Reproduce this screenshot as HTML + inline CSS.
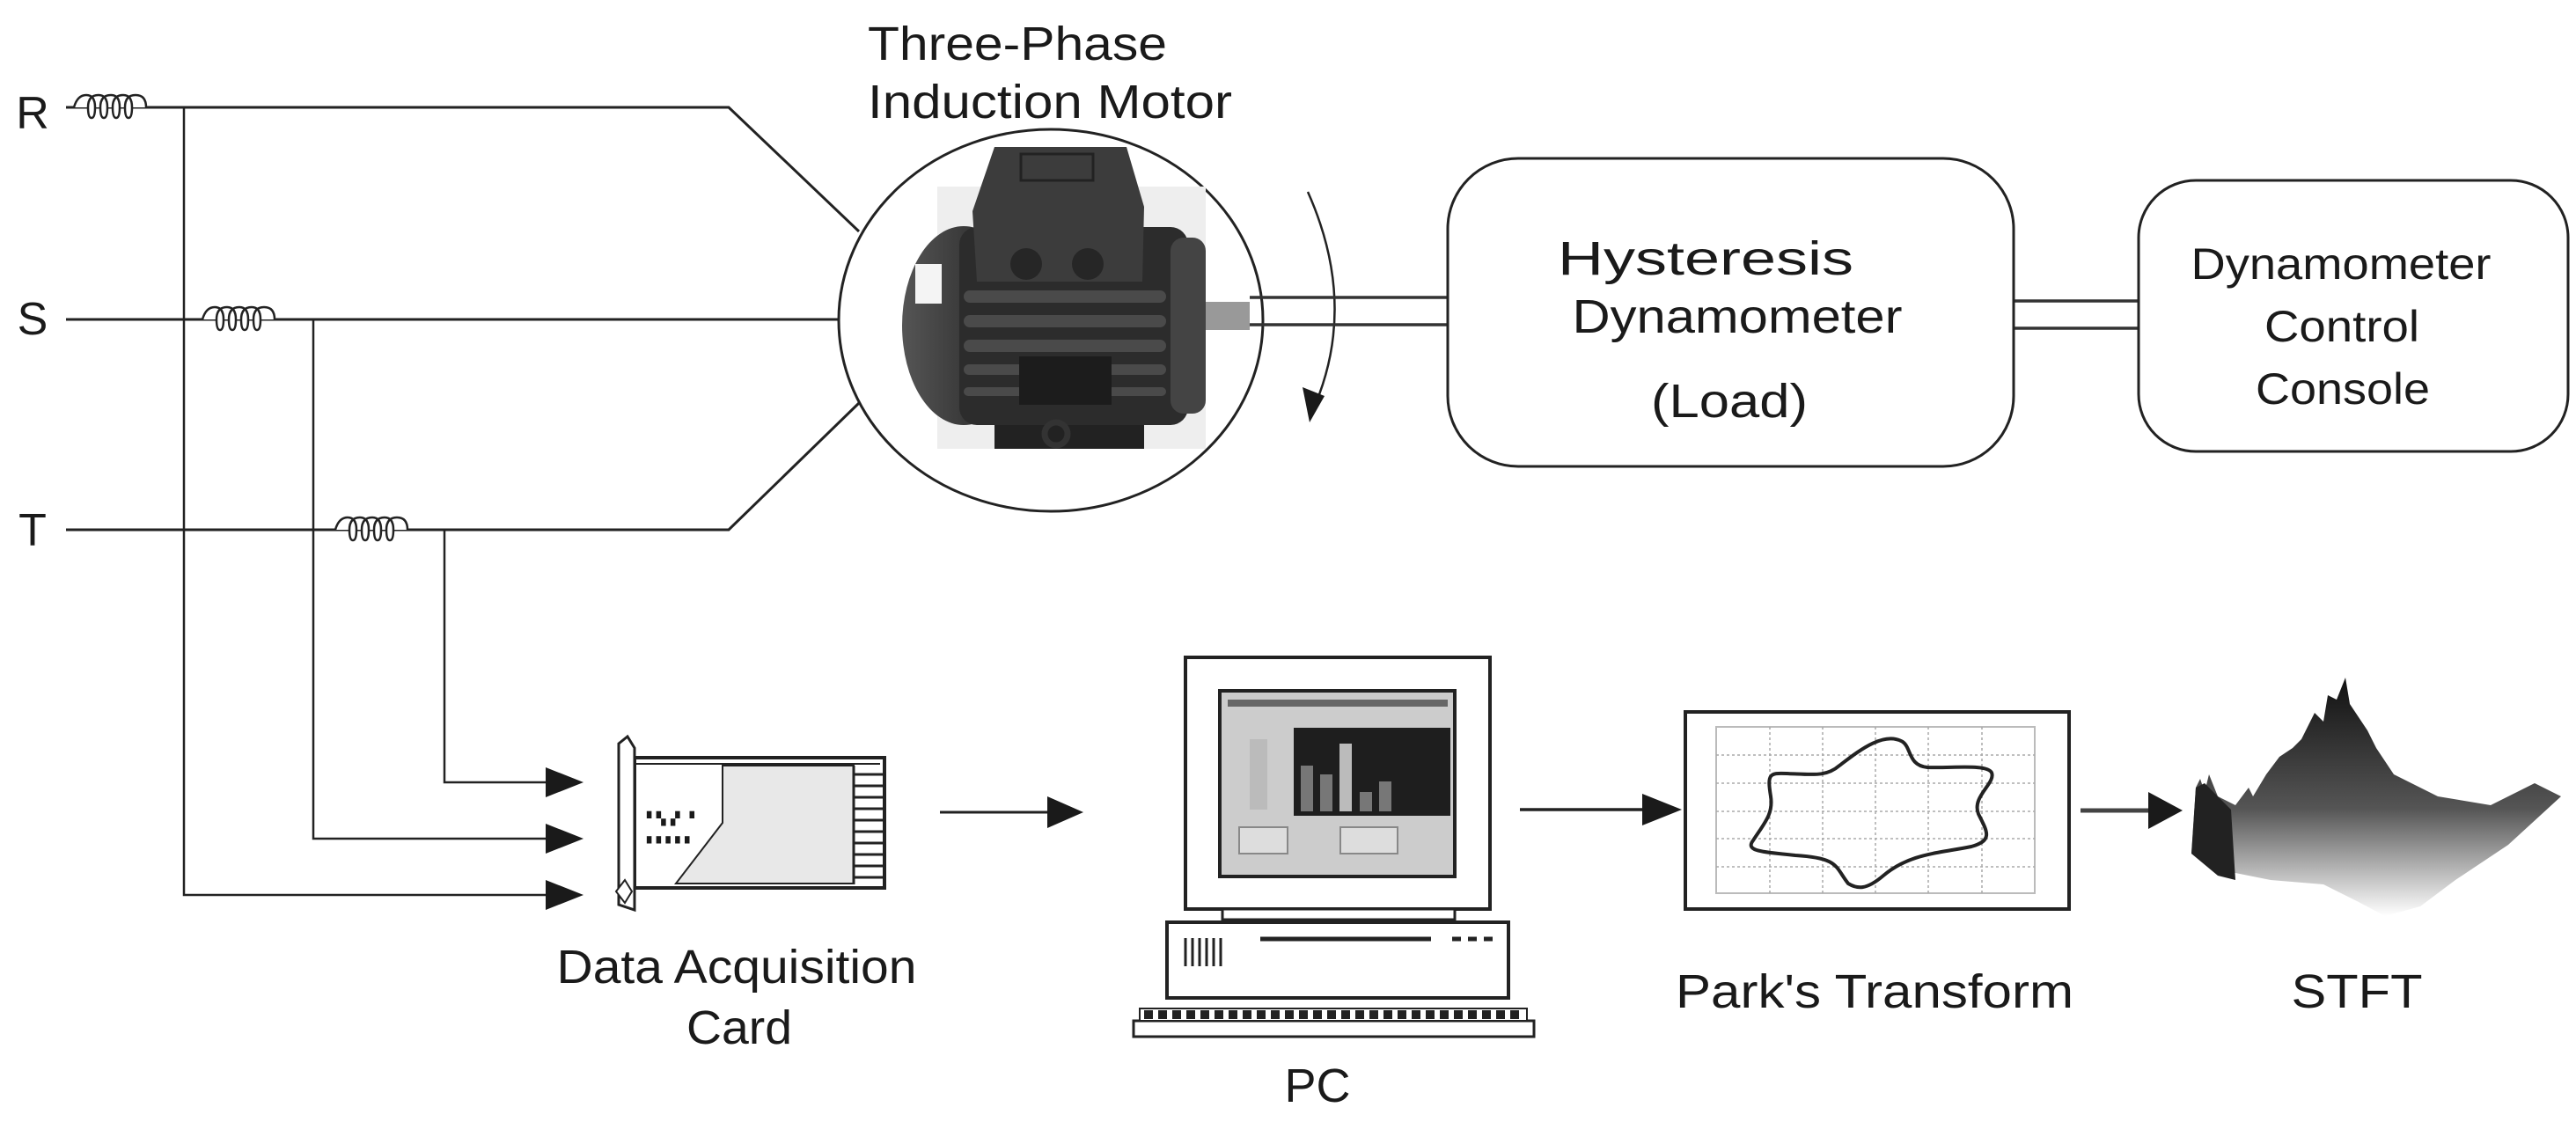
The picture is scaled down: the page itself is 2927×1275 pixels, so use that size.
<!DOCTYPE html>
<html><head><meta charset="utf-8">
<style>html,body{margin:0;padding:0;background:#fff}svg{display:block}
text{font-family:"Liberation Sans",sans-serif;fill:#1a1a1a}</style></head>
<body>
<svg width="2927" height="1275" viewBox="0 0 2927 1275" xmlns="http://www.w3.org/2000/svg">
<defs>
<linearGradient id="cap" x1="0" x2="1"><stop offset="0" stop-color="#555"/><stop offset="0.5" stop-color="#3a3a3a"/><stop offset="1" stop-color="#222"/></linearGradient>
<linearGradient id="stf" x1="0" y1="0" x2="0" y2="1"><stop offset="0" stop-color="#111"/><stop offset="0.55" stop-color="#555"/><stop offset="1" stop-color="#fff"/></linearGradient>
</defs>
<g stroke="#222" fill="none" stroke-width="3">
<polyline points="75,122 828,122 976,263"/>
<line x1="75" y1="363" x2="955" y2="363"/>
<polyline points="75,602 828,602 976,458"/>
<path d="M84,122 q4,-14 14,-14 q10,0 10,14 q0,12 -4,12 q-4,0 -4,-12 q0,-14 12,-14 q10,0 10,14 q0,12 -4,12 q-4,0 -4,-12 q0,-14 12,-14 q10,0 10,14 q0,12 -4,12 q-4,0 -4,-12 q0,-14 12,-14 q10,0 10,14 q0,12 -4,12 q-4,0 -4,-12 q0,-14 12,-14 q12,0 12,14" stroke-width="2.5" fill="#fff"/>
<path d="M230,363 q4,-14 14,-14 q10,0 10,14 q0,12 -4,12 q-4,0 -4,-12 q0,-14 12,-14 q10,0 10,14 q0,12 -4,12 q-4,0 -4,-12 q0,-14 12,-14 q10,0 10,14 q0,12 -4,12 q-4,0 -4,-12 q0,-14 12,-14 q10,0 10,14 q0,12 -4,12 q-4,0 -4,-12 q0,-14 12,-14 q12,0 12,14" stroke-width="2.5" fill="#fff"/>
<path d="M381,602 q4,-14 14,-14 q10,0 10,14 q0,12 -4,12 q-4,0 -4,-12 q0,-14 12,-14 q10,0 10,14 q0,12 -4,12 q-4,0 -4,-12 q0,-14 12,-14 q10,0 10,14 q0,12 -4,12 q-4,0 -4,-12 q0,-14 12,-14 q10,0 10,14 q0,12 -4,12 q-4,0 -4,-12 q0,-14 12,-14 q12,0 12,14" stroke-width="2.5" fill="#fff"/>
<polyline points="209,122 209,1017 630,1017" stroke-width="2.5"/>
<polyline points="356,363 356,953 630,953" stroke-width="2.5"/>
<polyline points="505,602 505,889 630,889" stroke-width="2.5"/>
</g>
<g fill="#1a1a1a">
<polygon points="620,872 663,889 620,906"/>
<polygon points="620,936 663,953 620,970"/>
<polygon points="620,1000 663,1017 620,1034"/>
</g>
<text x="37" y="146" font-size="52" text-anchor="middle">R</text>
<text x="37" y="380" font-size="52" text-anchor="middle">S</text>
<text x="37" y="620" font-size="52" text-anchor="middle">T</text>
<text x="1156" y="68" font-size="54" text-anchor="middle" textLength="340" lengthAdjust="spacingAndGlyphs">Three-Phase</text>
<text x="1193" y="134" font-size="54" text-anchor="middle" textLength="414" lengthAdjust="spacingAndGlyphs">Induction Motor</text>
<ellipse cx="1194" cy="364" rx="241" ry="217" fill="#fff" stroke="#222" stroke-width="3"/>
<rect x="1065" y="212" width="305" height="298" fill="#eee"/>
<rect x="1130" y="475" width="170" height="35" fill="#222"/>
<rect x="1370" y="343" width="50" height="32" fill="#999"/>
<ellipse cx="1095" cy="370" rx="70" ry="113" fill="url(#cap)"/>
<rect x="1090" y="258" width="260" height="225" rx="20" fill="#2c2c2c"/>
<rect x="1330" y="270" width="40" height="200" rx="15" fill="#444"/>
<g fill="#4a4a4a"><rect x="1095" y="330" width="230" height="14" rx="7"/><rect x="1095" y="358" width="230" height="14" rx="7"/><rect x="1095" y="386" width="230" height="14" rx="7"/><rect x="1095" y="414" width="230" height="12" rx="6"/><rect x="1095" y="440" width="230" height="10" rx="5"/></g>
<rect x="1158" y="405" width="105" height="55" fill="#1c1c1c"/>
<rect x="1040" y="300" width="30" height="45" fill="#f4f4f4"/>
<polygon points="1130,167 1280,167 1300,235 1298,320 1110,320 1105,240" fill="#3c3c3c"/>
<rect x="1160" y="175" width="82" height="30" fill="none" stroke="#222" stroke-width="3"/>
<circle cx="1166" cy="300" r="18" fill="#262626"/><circle cx="1236" cy="300" r="18" fill="#262626"/>
<circle cx="1200" cy="493" r="13" fill="none" stroke="#333" stroke-width="7"/>
<path d="M1486,218 Q1545,350 1490,470" fill="none" stroke="#222" stroke-width="2.5"/>
<polygon points="1480,440 1505,450 1488,480" fill="#1a1a1a"/>
<g stroke="#333" stroke-width="3.5"><line x1="1420" y1="338" x2="1645" y2="338"/><line x1="1420" y1="369" x2="1645" y2="369"/>
<line x1="2288" y1="342" x2="2430" y2="342"/><line x1="2288" y1="373" x2="2430" y2="373"/></g>
<rect x="1645" y="180" width="643" height="350" rx="80" fill="#fff" stroke="#222" stroke-width="3"/>
<text x="1938" y="312" font-size="54" text-anchor="middle" textLength="336" lengthAdjust="spacingAndGlyphs">Hysteresis</text>
<text x="1974" y="378" font-size="54" text-anchor="middle" textLength="375" lengthAdjust="spacingAndGlyphs">Dynamometer</text>
<text x="1965" y="474" font-size="54" text-anchor="middle" textLength="178" lengthAdjust="spacingAndGlyphs">(Load)</text>
<rect x="2430" y="205" width="488" height="308" rx="65" fill="#fff" stroke="#222" stroke-width="3"/>
<text x="2660" y="317" font-size="50" text-anchor="middle" textLength="341" lengthAdjust="spacingAndGlyphs">Dynamometer</text>
<text x="2661" y="388" font-size="50" text-anchor="middle" textLength="176" lengthAdjust="spacingAndGlyphs">Control</text>
<text x="2662" y="459" font-size="50" text-anchor="middle" textLength="198" lengthAdjust="spacingAndGlyphs">Console</text>
<rect x="721" y="861" width="284" height="148" fill="#fff" stroke="#222" stroke-width="4"/>
<line x1="721" y1="868" x2="1000" y2="868" stroke="#222" stroke-width="2"/>
<polygon points="821,870 970,870 970,1004 768,1004 821,935" fill="#e8e8e8" stroke="#222" stroke-width="2"/>
<g stroke="#222" stroke-width="3">
<line x1="970" y1="870" x2="970" y2="1005"/>
<line x1="970" y1="880" x2="1003" y2="880"/><line x1="970" y1="893" x2="1003" y2="893"/><line x1="970" y1="906" x2="1003" y2="906"/><line x1="970" y1="919" x2="1003" y2="919"/><line x1="970" y1="932" x2="1003" y2="932"/><line x1="970" y1="945" x2="1003" y2="945"/><line x1="970" y1="958" x2="1003" y2="958"/><line x1="970" y1="971" x2="1003" y2="971"/><line x1="970" y1="984" x2="1003" y2="984"/><line x1="970" y1="997" x2="1003" y2="997"/>
</g>
<text x="735" y="935" font-size="14">▘▚▗▘▝</text><text x="735" y="955" font-size="14">▖▖▖▖▖</text>
<polygon points="703,845 713,837 721,850 721,1034 703,1028" fill="#fff" stroke="#222" stroke-width="3"/>
<polygon points="700,1013 710,1000 718,1013 710,1026" fill="#fff" stroke="#222" stroke-width="2"/>
<text x="837" y="1117" font-size="54" text-anchor="middle" textLength="409" lengthAdjust="spacingAndGlyphs">Data Acquisition</text>
<text x="840" y="1186" font-size="54" text-anchor="middle" textLength="120" lengthAdjust="spacingAndGlyphs">Card</text>
<line x1="1068" y1="923" x2="1200" y2="923" stroke="#222" stroke-width="3"/>
<polygon points="1190,905 1231,923 1190,941" fill="#1a1a1a"/>
<rect x="1347" y="747" width="346" height="286" fill="#fff" stroke="#222" stroke-width="4"/>
<rect x="1386" y="785" width="267" height="211" fill="#ccc" stroke="#222" stroke-width="4"/>
<rect x="1395" y="795" width="250" height="8" fill="#666"/>
<rect x="1470" y="827" width="178" height="100" fill="#1e1e1e"/>
<g fill="#777"><rect x="1478" y="870" width="14" height="52"/><rect x="1500" y="880" width="14" height="42"/><rect x="1545" y="900" width="14" height="22"/><rect x="1567" y="888" width="14" height="34"/></g>
<rect x="1522" y="845" width="14" height="77" fill="#bbb"/>
<rect x="1408" y="940" width="55" height="30" fill="#ddd" stroke="#888" stroke-width="2"/>
<rect x="1523" y="940" width="65" height="30" fill="#ddd" stroke="#888" stroke-width="2"/>
<rect x="1420" y="840" width="20" height="80" fill="#bbb"/>
<rect x="1389" y="1033" width="264" height="12" fill="#fff" stroke="#222" stroke-width="3"/>
<rect x="1326" y="1048" width="388" height="86" fill="#fff" stroke="#222" stroke-width="4"/>
<g stroke="#222" stroke-width="3"><line x1="1347" y1="1066" x2="1347" y2="1098"/><line x1="1355" y1="1066" x2="1355" y2="1098"/><line x1="1363" y1="1066" x2="1363" y2="1098"/><line x1="1371" y1="1066" x2="1371" y2="1098"/><line x1="1379" y1="1066" x2="1379" y2="1098"/><line x1="1387" y1="1066" x2="1387" y2="1098"/>
<line x1="1432" y1="1067" x2="1626" y2="1067" stroke-width="5"/><line x1="1650" y1="1067" x2="1702" y2="1067" stroke-width="5" stroke-dasharray="10,8"/></g>
<rect x="1288" y="1160" width="455" height="18" fill="#fff" stroke="#222" stroke-width="3"/>
<rect x="1295" y="1146" width="440" height="14" fill="#fff" stroke="#222" stroke-width="2"/>
<line x1="1300" y1="1153" x2="1730" y2="1153" stroke="#222" stroke-width="10" stroke-dasharray="10,6"/>
<text x="1497" y="1252" font-size="54" text-anchor="middle" textLength="75" lengthAdjust="spacingAndGlyphs">PC</text>
<line x1="1727" y1="920" x2="1880" y2="920" stroke="#222" stroke-width="3.5"/>
<polygon points="1866,902 1911,920 1866,938" fill="#1a1a1a"/>
<rect x="1915" y="809" width="436" height="224" fill="#fff" stroke="#222" stroke-width="4"/>
<rect x="1950" y="826" width="362" height="189" fill="none" stroke="#bbb" stroke-width="2"/>
<g stroke="#aaa" stroke-width="1.5" stroke-dasharray="3,3">
<line x1="1950" y1="858" x2="2312" y2="858"/><line x1="1950" y1="890" x2="2312" y2="890"/><line x1="1950" y1="922" x2="2312" y2="922"/><line x1="1950" y1="953" x2="2312" y2="953"/><line x1="1950" y1="985" x2="2312" y2="985"/>
<line x1="2011" y1="826" x2="2011" y2="1015"/><line x1="2071" y1="826" x2="2071" y2="1015"/><line x1="2131" y1="826" x2="2131" y2="1015"/><line x1="2191" y1="826" x2="2191" y2="1015"/><line x1="2252" y1="826" x2="2252" y2="1015"/></g>
<path d="M2162,843 C2172,850 2168,870 2190,872 C2220,873 2258,868 2263,878 C2268,890 2240,905 2248,925 C2258,945 2265,955 2240,962 C2200,970 2170,970 2140,995 C2120,1012 2110,1010 2100,1004 C2085,985 2090,975 2040,972 C2005,968 1982,968 1992,955 C2005,935 2015,925 2012,905 C2008,880 2010,878 2030,879 C2060,880 2075,883 2090,870 C2110,855 2140,830 2162,843 Z" fill="none" stroke="#222" stroke-width="4"/>
<line x1="2364" y1="921" x2="2450" y2="921" stroke="#444" stroke-width="5"/>
<polygon points="2441,900 2480,921 2441,942" fill="#1a1a1a"/>
<polygon points="2490,970 2495,895 2500,885 2505,900 2510,880 2520,905 2540,915 2555,895 2560,905 2575,880 2590,860 2605,850 2615,840 2630,810 2640,820 2645,790 2655,795 2665,770 2670,800 2680,815 2690,830 2700,850 2720,880 2770,905 2830,915 2880,890 2910,905 2850,960 2790,1000 2750,1030 2710,1041 2680,1025 2640,1005 2580,1000 2530,990" fill="url(#stf)"/>
<polygon points="2490,970 2495,895 2505,890 2520,905 2535,920 2540,1000 2520,995" fill="#222"/>
<text x="2130" y="1145" font-size="54" text-anchor="middle" textLength="452" lengthAdjust="spacingAndGlyphs">Park's Transform</text>
<text x="2678" y="1145" font-size="54" text-anchor="middle" textLength="149" lengthAdjust="spacingAndGlyphs">STFT</text>
</svg>
</body></html>
